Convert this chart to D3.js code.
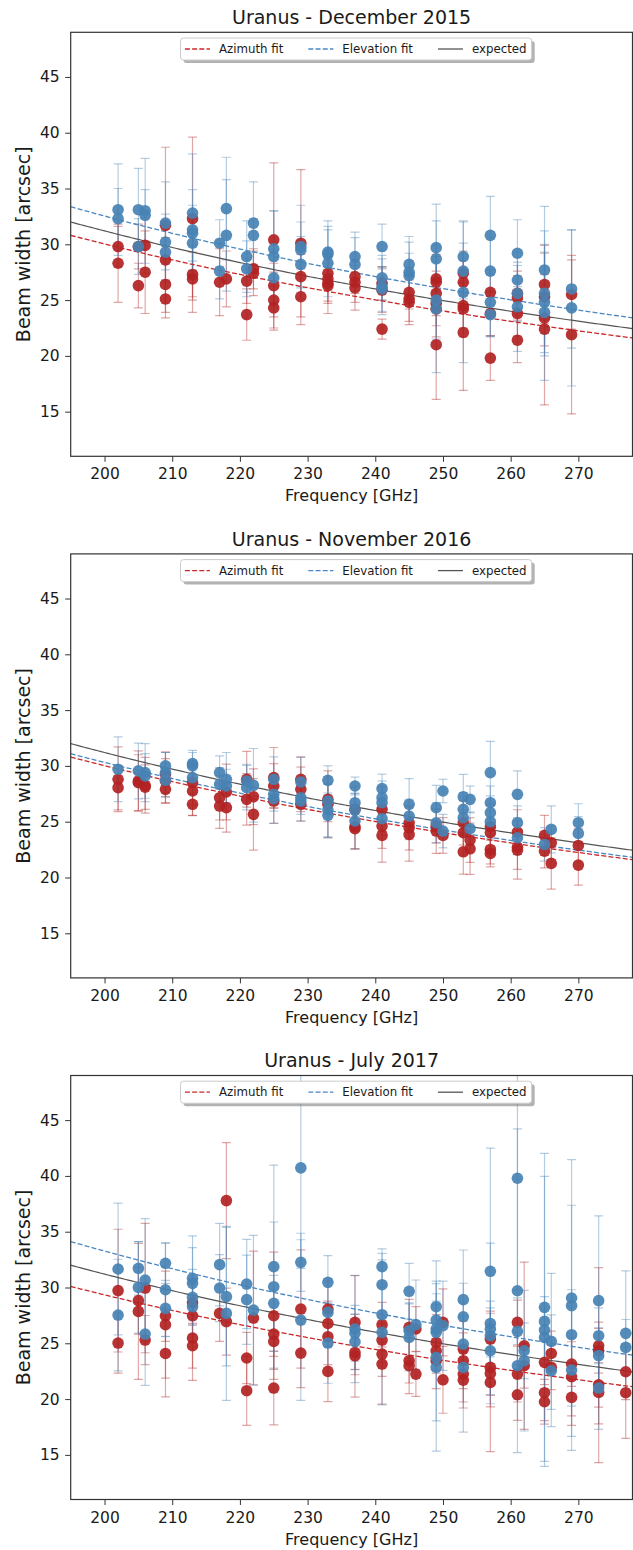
<!DOCTYPE html>
<html lang="en">
<head>
<meta charset="UTF-8">
<title>Uranus beam width vs frequency</title>
<script src="https://d3js.org/d3.v7.min.js"></script>
<style>
  body { margin: 0; background: #fff; }
  svg { display: block; }
  text { font-family: "DejaVu Sans", sans-serif; fill: #1a1a1a; }
  .axis .domain { display: none; }
  .axis .tick line { stroke: #333; stroke-width: 1; }
  .axis .tick text { font-size: 15.5px; fill: #1a1a1a; }
  .legend text { font-size: 11.8px; }
</style>
</head>
<body>
<svg id="chart" width="633" height="1550"></svg>
<script>
// ---- data (frequency GHz, beam width arcsec, error arcsec) ----
const xTicks = [200, 210, 220, 230, 240, 250, 260, 270];
const yTicks = [15, 20, 25, 30, 35, 40, 45];
const titles = ["Uranus - December 2015", "Uranus - November 2016", "Uranus - July 2017"];
const legendLabels = ["Azimuth fit", "Elevation fit", "expected"];

const dec2015Az = [
  [202, 29.8, 1.8], [202, 28.3, 3.5], [205, 29.8, 2.0], [205, 26.3, 2.0], [206, 29.9, 2.5], [206, 27.5, 3.7],
  [209, 31.7, 7.0], [209, 28.6, 2.0], [209, 26.4, 2.5], [209, 25.1, 1.7], [213, 32.3, 7.3], [213, 27.3, 2.0],
  [213, 26.9, 3.0], [217, 26.6, 3.0], [218, 26.9, 2.5], [221, 26.7, 2.0], [221, 23.7, 2.3], [222, 27.8, 1.8],
  [222, 27.4, 2.0], [225, 30.4, 6.9], [225, 26.3, 2.0], [225, 25.0, 2.5], [225, 24.3, 2.0], [229, 30.1, 6.6],
  [229, 27.1, 2.0], [229, 25.3, 2.5], [233, 27.4, 1.5], [233, 26.9, 2.0], [233, 26.5, 1.8], [233, 26.3, 2.5],
  [237, 27.1, 1.5], [237, 26.6, 1.8], [237, 26.1, 2.0], [241, 26.5, 1.5], [241, 25.9, 2.0], [241, 22.4, 0.9],
  [245, 25.7, 1.5], [245, 25.1, 2.0], [245, 24.8, 2.0], [249, 26.9, 2.0], [249, 26.6, 2.5], [249, 25.6, 2.0],
  [249, 24.7, 2.0], [249, 24.2, 2.5], [249, 21.0, 4.9], [253, 27.4, 2.0], [253, 26.6, 2.0], [253, 24.5, 2.0],
  [253, 24.2, 2.5], [253, 22.1, 5.2], [257, 25.7, 2.0], [257, 23.8, 2.0], [257, 19.8, 2.0], [261, 25.6, 2.0],
  [261, 25.2, 2.0], [261, 23.8, 2.0], [261, 21.4, 2.0], [265, 26.4, 3.5], [265, 25.3, 2.0], [265, 23.4, 2.5],
  [265, 22.4, 6.8], [269, 25.5, 3.1], [269, 21.9, 7.1]
];
const dec2015El = [
  [202, 33.1, 4.1], [202, 32.3, 2.7], [205, 33.1, 3.7], [205, 29.8, 2.5], [206, 33.0, 4.7], [206, 32.6, 2.3],
  [209, 31.9, 3.7], [209, 30.2, 2.5], [209, 29.3, 2.5], [213, 32.8, 5.3], [213, 31.3, 3.6], [213, 31.0, 2.5],
  [213, 30.1, 2.5], [217, 30.1, 2.1], [217, 27.6, 2.5], [218, 33.2, 4.6], [218, 30.8, 5.0], [221, 28.9, 3.2],
  [221, 27.8, 2.5], [222, 31.9, 3.7], [222, 30.8, 1.5], [225, 29.6, 3.4], [225, 28.9, 4.1], [225, 27.0, 2.5],
  [229, 29.8, 3.7], [229, 29.5, 2.5], [229, 28.2, 2.5], [233, 29.3, 2.8], [233, 29.1, 2.5], [233, 28.3, 3.0],
  [237, 28.9, 2.2], [237, 28.2, 2.4], [241, 29.8, 2.0], [241, 27.0, 2.0], [241, 26.2, 2.5], [241, 26.0, 2.0],
  [245, 28.2, 2.5], [245, 27.5, 2.7], [245, 27.2, 2.0], [249, 29.7, 3.9], [249, 28.7, 3.4], [249, 25.0, 3.5],
  [249, 24.2, 5.7], [253, 28.9, 3.2], [253, 27.6, 2.5], [253, 25.7, 6.3], [257, 30.8, 3.5], [257, 27.6, 3.0],
  [257, 24.8, 3.0], [257, 23.7, 2.0], [261, 29.2, 3.0], [261, 26.8, 2.5], [261, 25.6, 2.5], [261, 24.4, 4.0],
  [265, 27.7, 5.7], [265, 25.6, 5.6], [265, 24.8, 4.5], [265, 23.9, 6.1], [269, 26.0, 5.3], [269, 24.3, 7.0]
];

const nov2016Az = [
  [202, 28.8, 2.9], [202, 28.05, 2.0], [205, 28.65, 2.7], [205, 28.5, 2.5], [206, 28.26, 2.5], [206, 28.1, 2.0],
  [209, 29.25, 2.0], [209, 28.65, 2.0], [209, 27.9, 1.2], [213, 28.5, 2.0], [213, 27.75, 2.2], [213, 26.56, 1.0],
  [217, 27.15, 2.0], [217, 26.4, 2.0], [218, 27.66, 2.5], [218, 26.26, 2.2], [221, 28.8, 2.5], [221, 27.0, 2.3],
  [222, 27.24, 2.5], [222, 25.66, 3.2], [225, 28.95, 2.7], [225, 28.2, 2.0], [225, 26.85, 2.0], [229, 28.8, 2.0],
  [229, 27.9, 2.0], [229, 26.56, 1.5], [233, 27.0, 2.0], [233, 26.56, 3.0], [237, 26.11, 2.0], [237, 24.55, 2.0],
  [237, 24.37, 1.8], [241, 26.11, 2.0], [241, 24.61, 2.0], [241, 23.77, 2.4], [245, 24.9, 1.5], [245, 24.46, 2.0],
  [245, 23.86, 2.4], [249, 24.6, 1.5], [249, 24.16, 2.0], [250, 23.77, 1.6], [253, 24.91, 2.0], [253, 24.01, 2.0],
  [253, 22.3, 2.0], [254, 23.35, 2.0], [254, 22.57, 2.3], [257, 24.55, 2.0], [257, 24.01, 2.0], [257, 22.51, 1.3],
  [257, 22.15, 1.2], [261, 24.07, 2.0], [261, 22.72, 2.0], [261, 22.45, 2.6], [265, 23.77, 1.8], [265, 22.36, 1.5],
  [266, 23.11, 1.5], [266, 21.26, 2.3], [270, 22.87, 1.5], [270, 21.11, 1.8]
];
const nov2016El = [
  [202, 29.7, 2.9], [205, 29.55, 2.5], [206, 29.4, 2.6], [206, 29.1, 2.0], [209, 30.0, 1.2], [209, 29.4, 1.8],
  [209, 28.71, 1.5], [213, 30.2, 1.2], [213, 30.0, 1.2], [213, 28.95, 1.5], [217, 29.4, 1.5], [217, 28.35, 1.5],
  [218, 28.8, 2.4], [218, 28.2, 1.5], [221, 28.65, 1.5], [221, 28.05, 2.0], [222, 28.26, 3.3], [225, 28.8, 2.0],
  [225, 27.45, 1.5], [225, 27.06, 2.2], [229, 28.56, 2.2], [229, 27.15, 1.5], [229, 26.85, 1.8], [233, 28.71, 1.3],
  [233, 26.85, 1.5], [233, 26.05, 2.4], [233, 25.57, 2.0], [237, 28.2, 0.8], [237, 26.7, 1.5], [237, 26.02, 1.5],
  [237, 25.06, 2.5], [241, 27.96, 1.3], [241, 27.15, 1.5], [241, 26.7, 1.5], [241, 25.27, 1.5], [245, 26.56, 2.3],
  [245, 25.51, 1.5], [249, 26.26, 2.0], [249, 24.9, 1.8], [250, 27.75, 1.05], [250, 24.16, 1.5], [253, 27.24, 2.0],
  [253, 26.11, 1.5], [253, 25.36, 1.5], [254, 27.0, 1.2], [254, 24.37, 1.5], [257, 29.4, 2.8], [257, 26.7, 1.5],
  [257, 25.81, 1.5], [257, 25.0, 1.5], [261, 27.45, 2.1], [261, 24.91, 1.5], [261, 23.56, 1.5], [265, 22.96, 1.5],
  [266, 24.31, 2.1], [270, 24.91, 1.7], [270, 23.95, 1.5]
];

const jul2017Az = [
  [202, 29.72, 5.5], [202, 25.02, 2.7], [205, 28.82, 3.0], [205, 27.86, 6.1], [206, 29.95, 5.8], [206, 25.29, 2.2],
  [209, 27.47, 2.3], [209, 26.67, 4.8], [209, 24.09, 3.9], [213, 28.64, 2.0], [213, 27.47, 2.8], [213, 25.47, 3.8],
  [213, 24.78, 2.0], [217, 27.68, 2.5], [218, 37.79, 5.2], [218, 26.94, 3.0], [221, 23.68, 2.3], [221, 20.75, 3.1],
  [222, 27.26, 6.0], [225, 27.47, 5.7], [225, 25.83, 2.0], [225, 25.17, 2.5], [225, 20.99, 3.3], [229, 28.07, 5.3],
  [229, 24.12, 3.1], [233, 28.07, 2.5], [233, 26.78, 2.0], [233, 25.59, 2.5], [233, 22.48, 2.7], [237, 26.87, 4.2],
  [237, 24.18, 2.0], [237, 23.88, 3.7], [241, 26.67, 2.0], [241, 25.29, 2.0], [241, 24.03, 2.0], [241, 23.14, 3.6],
  [245, 26.43, 2.5], [245, 23.44, 2.0], [245, 22.99, 2.5], [246, 26.28, 2.0], [246, 22.24, 2.0], [249, 25.08, 2.5],
  [249, 24.33, 2.0], [249, 23.44, 2.5], [250, 26.87, 3.0], [250, 21.73, 3.0], [253, 24.48, 2.5], [253, 23.44, 2.5],
  [253, 22.24, 2.5], [253, 21.7, 2.5], [257, 25.38, 2.5], [257, 22.84, 2.5], [257, 22.3, 3.0], [257, 21.49, 6.2],
  [261, 26.87, 2.0], [261, 22.24, 2.5], [261, 20.39, 2.3], [262, 24.78, 7.5], [262, 22.99, 2.0], [265, 23.29, 2.0],
  [265, 20.57, 2.5], [265, 19.76, 2.0], [266, 24.09, 2.0], [266, 22.84, 2.0], [269, 23.14, 2.0], [269, 22.0, 3.5],
  [269, 20.15, 2.5], [273, 24.78, 7.0], [273, 24.33, 2.0], [273, 21.28, 2.0], [273, 20.6, 6.3], [277, 22.45, 2.5],
  [277, 20.57, 4.1]
];
const jul2017El = [
  [202, 31.66, 5.9], [202, 27.53, 5.0], [205, 31.72, 2.4], [205, 30.01, 4.1], [206, 30.67, 5.5], [206, 25.83, 4.6],
  [209, 32.17, 1.8], [209, 29.8, 4.2], [209, 28.13, 2.5], [213, 30.82, 3.8], [213, 30.37, 3.2], [213, 29.12, 2.5],
  [213, 28.28, 2.5], [217, 32.05, 3.7], [217, 29.95, 3.0], [218, 29.18, 6.2], [218, 27.68, 7.8], [221, 30.31, 4.0],
  [221, 28.91, 4.0], [222, 27.98, 6.7], [225, 31.87, 9.1], [225, 30.07, 5.8], [225, 28.58, 2.5], [229, 40.72, 9.0],
  [229, 32.26, 2.6], [229, 27.08, 7.2], [233, 30.46, 2.4], [233, 27.77, 3.0], [233, 25.02, 3.6], [237, 26.28, 4.8],
  [237, 25.89, 2.5], [237, 25.14, 2.5], [241, 31.87, 1.6], [241, 30.25, 2.8], [241, 27.56, 2.5], [241, 25.98, 6.5],
  [245, 29.66, 2.5], [245, 26.13, 2.5], [245, 25.53, 3.0], [246, 26.67, 4.0], [249, 28.28, 4.1], [249, 27.08, 3.5],
  [249, 26.28, 2.5], [249, 25.98, 2.5], [249, 23.74, 5.7], [249, 22.84, 7.5], [250, 26.58, 4.0], [253, 28.91, 4.45],
  [253, 27.38, 3.0], [253, 24.93, 2.5], [253, 22.84, 5.8], [257, 31.45, 11.05], [257, 26.78, 7.2], [257, 26.28, 2.5],
  [257, 25.68, 2.5], [257, 24.33, 2.5], [261, 39.79, 10.0], [261, 29.71, 14.5], [261, 26.07, 3.0], [261, 22.99, 3.0],
  [262, 24.33, 2.5], [262, 23.44, 6.3], [265, 28.22, 13.8], [265, 26.96, 13.0], [265, 26.19, 3.0], [265, 25.53, 2.5],
  [266, 25.17, 6.1], [266, 22.54, 5.0], [269, 29.06, 12.4], [269, 28.37, 9.0], [269, 25.77, 2.5], [269, 22.6, 7.2],
  [273, 28.82, 7.6], [273, 25.68, 2.5], [273, 23.89, 2.5], [273, 20.99, 3.7], [277, 25.89, 5.6], [277, 24.63, 2.5]
];

// fitted beam = coef / frequency
const azFitCoef = [6006, 6004, 5868];
const elFitCoef = [6507, 6063, 6653];
const expectedCoef = 6240;

// ---- layout ----
const left = 70.7, right = 632.5, plotH = 424;
const panelTops = [32.3, 553.9, 1075.5];
const azColor = "#b22222", elColor = "#4682b4";
const azFitColor = "#c8282a", elFitColor = "#4a88c2", expColor = "#555";

const panels = [
  { title: titles[0], az: dec2015Az, el: dec2015El, azCoef: azFitCoef[0], elCoef: elFitCoef[0] },
  { title: titles[1], az: nov2016Az, el: nov2016El, azCoef: azFitCoef[1], elCoef: elFitCoef[1] },
  { title: titles[2], az: jul2017Az, el: jul2017El, azCoef: azFitCoef[2], elCoef: elFitCoef[2] }
];

const x = d3.scaleLinear().domain([195, 278]).range([left, right]);
const y = d3.scaleLinear().domain([11, 49]).range([plotH, 0]);
const fGrid = d3.range(195, 278.01, 0.5);

const svg = d3.select("#chart");
svg.append("defs").append("clipPath").attr("id", "plotclip")
  .append("rect").attr("x", left).attr("y", 0).attr("width", right - left).attr("height", plotH);

const curve = coef => d3.line().x(f => x(f)).y(f => y(coef / f))(fGrid);

panels.forEach((p, i) => {
  const g = svg.append("g").attr("transform", `translate(0,${panelTops[i]})`);

  // axes
  g.append("g").attr("class", "axis")
    .attr("transform", `translate(0,${plotH})`)
    .call(d3.axisBottom(x).tickValues(xTicks).tickSize(5.5).tickPadding(6.5).tickFormat(d3.format("d")));
  g.append("g").attr("class", "axis")
    .attr("transform", `translate(${left},0)`)
    .call(d3.axisLeft(y).tickValues(yTicks).tickSize(5.5).tickPadding(5.5).tickFormat(d3.format("d")));

  const plot = g.append("g").attr("clip-path", "url(#plotclip)");

  // error bars
  function bars(data, color) {
    const eb = plot.append("g").attr("stroke", color).attr("stroke-opacity", 0.4)
      .attr("stroke-width", 1.2).attr("fill", "none");
    data.forEach(([f, v, e]) => {
      const cx = x(f);
      eb.append("line").attr("x1", cx).attr("x2", cx).attr("y1", y(v - e)).attr("y2", y(v + e));
      eb.append("line").attr("x1", cx - 4.5).attr("x2", cx + 4.5).attr("y1", y(v - e)).attr("y2", y(v - e));
      eb.append("line").attr("x1", cx - 4.5).attr("x2", cx + 4.5).attr("y1", y(v + e)).attr("y2", y(v + e));
    });
  }
  bars(p.az, azColor);
  bars(p.el, elColor);

  // fit curves
  plot.append("path").attr("d", curve(p.azCoef)).attr("fill", "none")
    .attr("stroke", azFitColor).attr("stroke-width", 1.3).attr("stroke-dasharray", "5,2.2");
  plot.append("path").attr("d", curve(p.elCoef)).attr("fill", "none")
    .attr("stroke", elFitColor).attr("stroke-width", 1.3).attr("stroke-dasharray", "5,2.2");
  plot.append("path").attr("d", curve(expectedCoef)).attr("fill", "none")
    .attr("stroke", expColor).attr("stroke-width", 1.2);

  // markers
  plot.append("g").selectAll("circle").data(p.az).join("circle")
    .attr("cx", d => x(d[0])).attr("cy", d => y(d[1])).attr("r", 5.8)
    .attr("fill", azColor).attr("fill-opacity", 0.92);
  plot.append("g").selectAll("circle").data(p.el).join("circle")
    .attr("cx", d => x(d[0])).attr("cy", d => y(d[1])).attr("r", 5.8)
    .attr("fill", elColor).attr("fill-opacity", 0.92);

  // frame
  g.append("rect").attr("x", left).attr("y", 0).attr("width", right - left).attr("height", plotH)
    .attr("fill", "none").attr("stroke", "#333").attr("stroke-width", 1.2);

  // title and labels
  g.append("text").attr("x", (left + right) / 2).attr("y", -8.3).attr("text-anchor", "middle")
    .style("font-size", "19px").text(p.title);
  g.append("text").attr("x", (left + right) / 2).attr("y", plotH + 45).attr("text-anchor", "middle")
    .style("font-size", "16px").text("Frequency [GHz]");
  g.append("text").attr("transform", `translate(30,${plotH / 2}) rotate(-90)`).attr("text-anchor", "middle")
    .style("font-size", "19px").text("Beam width [arcsec]");

  // legend
  const lg = g.append("g").attr("class", "legend");
  const shadow = lg.append("rect"), box = lg.append("rect");
  const styles = [
    { color: azFitColor, dash: "5,2.2" },
    { color: elFitColor, dash: "5,2.2" },
    { color: expColor, dash: null }
  ];
  let cursor = 0;
  legendLabels.forEach((label, k) => {
    const it = lg.append("g").attr("transform", `translate(${cursor},0)`);
    it.append("line").attr("x1", 0).attr("x2", 25).attr("y1", 0).attr("y2", 0)
      .attr("stroke", styles[k].color).attr("stroke-width", 1.3)
      .attr("stroke-dasharray", styles[k].dash);
    const t = it.append("text").attr("x", 34).attr("y", 0).attr("dy", "0.35em").text(label);
    const w = t.node().getComputedTextLength();
    cursor += 34 + w + 25;
  });
  const contentW = cursor - 25;
  const boxW = contentW + 9.5, boxH = 22;
  const boxX = (left + right) / 2 + 4.5 - boxW / 2, boxY = 5.7;
  lg.selectAll("g").each(function () {
    const t = d3.select(this).attr("transform").match(/translate\(([-\d.]+)/)[1];
    d3.select(this).attr("transform", `translate(${boxX + 4.4 + (+t)},${boxY + boxH / 2})`);
  });
  shadow.attr("x", boxX + 3).attr("y", boxY + 3).attr("width", boxW).attr("height", boxH)
    .attr("rx", 3).attr("fill", "#7f7f7f").attr("fill-opacity", 0.6);
  box.attr("x", boxX).attr("y", boxY).attr("width", boxW).attr("height", boxH)
    .attr("rx", 3).attr("fill", "#fff").attr("stroke", "#cccccc").attr("stroke-width", 1);
});
</script>
</body>
</html>
